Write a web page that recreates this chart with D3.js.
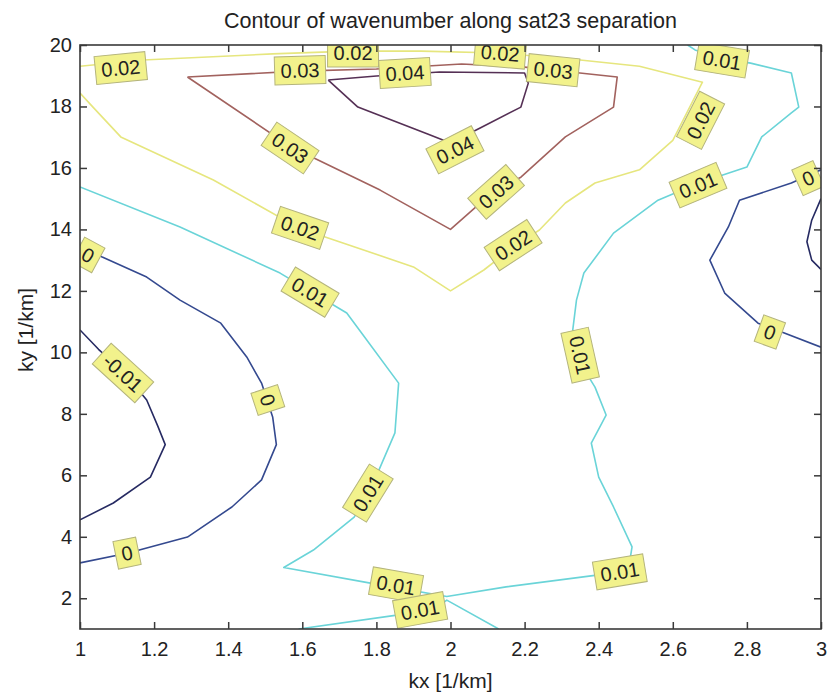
<!DOCTYPE html>
<html>
<head>
<meta charset="utf-8">
<script src="https://cdn.jsdelivr.net/npm/d3@7"></script>
<style>
  body { margin: 0; background: #fff; }
  text { font-family: "Liberation Sans", Arial, sans-serif; fill: #222; }
</style>
</head>
<body>
<div id="chart"></div>
<script>
  // contour levels and the colour MATLAB gave each one
  var levels = [-0.01, 0, 0.01, 0.02, 0.03, 0.04];
  var levelColors = ["#262a62", "#34498f", "#6ad4d8", "#e6e67e", "#a2625e", "#553055"];

  var xTicks = [1, 1.2, 1.4, 1.6, 1.8, 2, 2.2, 2.4, 2.6, 2.8, 3];
  var yTicks = [2, 4, 6, 8, 10, 12, 14, 16, 18, 20];

  // contour polylines, [kx, ky]
  var lineM001Left = [[1.0,10.73],[1.05,10.1],[1.12,9.33],[1.18,8.45],[1.21,7.6],[1.23,7.0],[1.19,5.94],[1.09,5.1],[1.0,4.55]];
  var lineM001Right = [[3.0,15.0],[2.975,14.3],[2.962,13.6],[2.975,13.0],[3.0,12.7]];
  var line0Left = [[1.0,13.49],[1.06,13.1],[1.18,12.45],[1.27,11.7],[1.38,10.95],[1.45,9.85],[1.49,9.0],[1.52,7.9],[1.53,7.0],[1.49,5.85],[1.41,4.97],[1.29,3.99],[1.13,3.47],[1.0,3.15]];
  var line0Right = [[3.0,15.94],[2.92,15.51],[2.78,14.95],[2.75,14.08],[2.7,13.0],[2.74,11.93],[2.83,10.95],[2.88,10.73],[3.0,10.17]];
  var line001Main = [[1.0,15.38],[1.27,14.08],[1.54,12.58],[1.72,11.28],[1.76,10.63],[1.86,9.0],[1.85,7.38],[1.78,5.42],[1.74,4.64],[1.63,3.57],[1.55,3.0],[1.78,2.5],[1.86,2.33],[1.99,2.06],[2.15,2.37],[2.4,2.76],[2.48,2.92],[2.49,3.67],[2.44,4.97],[2.4,5.94],[2.38,7.05],[2.42,7.96],[2.39,8.87],[2.35,9.65],[2.33,10.73],[2.34,11.7],[2.36,12.58],[2.44,13.88],[2.56,14.95],[2.67,15.51],[2.8,16.03],[2.84,17.01],[2.92,17.79],[2.94,17.98],[2.92,19.09],[2.81,19.41],[2.73,19.57],[2.66,19.84],[2.64,20.0]];
  var line001Bottom = [[1.59,1.0],[1.86,1.46],[1.96,1.68],[1.99,1.94],[2.13,1.0]];
  var line002 = [[1.0,18.44],[1.035,17.98],[1.11,17.01],[1.36,15.61],[1.59,14.05],[1.9,12.78],[2.0,12.0],[2.09,12.68],[2.17,13.43],[2.24,13.98],[2.31,14.86],[2.39,15.51],[2.51,15.94],[2.6,16.9],[2.68,18.79],[2.51,19.31],[2.35,19.51],[2.13,19.74],[1.92,19.8],[1.73,19.8],[1.52,19.71],[1.17,19.51],[1.0,19.31]];
  var line003 = [[1.29,18.96],[1.59,19.15],[1.8,19.22],[2.03,19.38],[2.2,19.28],[2.28,19.18],[2.45,18.96],[2.44,17.98],[2.31,17.01],[2.19,15.7],[2.12,15.28],[2.0,14.0],[1.81,15.28],[1.57,16.68],[1.29,18.96]];
  var line004 = [[1.67,18.86],[1.8,18.99],[1.88,19.05],[1.97,19.12],[2.2,19.09],[2.21,18.76],[2.19,17.98],[2.08,17.3],[2.0,16.81],[1.94,17.1],[1.75,17.98],[1.67,18.86]];

  var contours = [
    { level: -0.01, paths: [lineM001Left, lineM001Right] },
    { level: 0, paths: [line0Left, line0Right] },
    { level: 0.01, paths: [line001Main, line001Bottom] },
    { level: 0.02, paths: [line002] },
    { level: 0.03, paths: [line003] },
    { level: 0.04, paths: [line004] }
  ];

  // clabel positions [kx, ky, text]
  var labelPoints = [
    [1.11,19.25,"0.02"], [1.594,19.18,"0.03"], [1.737,19.74,"0.02"], [1.877,19.09,"0.04"],
    [2.134,19.74,"0.02"], [2.277,19.18,"0.03"], [2.733,19.51,"0.01"], [2.675,17.55,"0.02"],
    [1.567,16.65,"0.03"], [2.012,16.59,"0.04"], [2.123,15.22,"0.03"], [2.668,15.44,"0.01"],
    [2.965,15.67,"0"], [1.594,14.05,"0.02"], [2.169,13.49,"0.02"], [1.022,13.17,"0"],
    [1.621,11.96,"0.01"], [1.116,9.33,"-0.01"], [1.507,8.45,"0"], [2.35,9.91,"0.01"],
    [2.862,10.66,"0"], [1.777,5.42,"0.01"], [1.127,3.47,"0"], [1.853,2.43,"0.01"],
    [1.918,1.62,"0.01"], [2.457,2.86,"0.01"]
  ];

  var W = 827, H = 692;
  var pLeft = 80, pRight = 821, pTop = 45, pBottom = 629;

  var svg = d3.select("#chart").append("svg")
      .attr("width", W)
      .attr("height", H);

  var x = d3.scaleLinear().domain([1, 3]).range([pLeft, pRight]);
  var y = d3.scaleLinear().domain([1, 20]).range([pBottom, pTop]);

  svg.append("clipPath").attr("id", "plotclip")
    .append("rect")
      .attr("x", pLeft).attr("y", pTop)
      .attr("width", pRight - pLeft).attr("height", pBottom - pTop);

  var plot = svg.append("g").attr("clip-path", "url(#plotclip)");

  var line = d3.line()
      .x(function(d) { return x(d[0]); })
      .y(function(d) { return y(d[1]); });

  contours.forEach(function(c) {
    var col = levelColors[levels.indexOf(c.level)];
    c.paths.forEach(function(p) {
      plot.append("path")
        .attr("d", line(p))
        .attr("fill", "none")
        .attr("stroke", col)
        .attr("stroke-width", 1.6)
        .attr("stroke-linejoin", "round");
    });
  });

  // angle of the nearest segment of the same level, in screen space
  function labelAngle(level, px, py) {
    var best = Infinity, ang = 0;
    contours.forEach(function(c) {
      if (c.level !== level) return;
      c.paths.forEach(function(p) {
        for (var i = 0; i < p.length - 1; i++) {
          var ax = x(p[i][0]), ay = y(p[i][1]);
          var bx = x(p[i+1][0]), by = y(p[i+1][1]);
          var dx = bx - ax, dy = by - ay;
          var t = ((px - ax) * dx + (py - ay) * dy) / (dx * dx + dy * dy);
          t = Math.max(0, Math.min(1, t));
          var qx = ax + t * dx - px, qy = ay + t * dy - py;
          var dist = qx * qx + qy * qy;
          if (dist < best) {
            best = dist;
            ang = Math.atan2(dy, dx) * 180 / Math.PI;
          }
        }
      });
    });
    if (ang > 90) ang -= 180;
    if (ang < -90) ang += 180;
    return ang;
  }

  labelPoints.forEach(function(d) {
    var px = x(d[0]), py = y(d[1]);
    var ang = labelAngle(+d[2], px, py);
    var g = plot.append("g")
        .attr("transform", "translate(" + px + "," + py + ") rotate(" + ang + ")");
    var r = g.append("rect");
    var t = g.append("text")
        .attr("text-anchor", "middle")
        .attr("dy", "0.36em")
        .style("font-size", "20px")
        .text(d[2]);
    var w = t.node().getComputedTextLength();
    r.attr("x", -w / 2 - 6).attr("y", -14)
      .attr("width", w + 12).attr("height", 28)
      .attr("fill", "#f2f28c")
      .attr("stroke", "#b4b47c")
      .attr("stroke-width", 1);
  });

  // axes, ticks pointing inward on all four sides
  var xAxis = svg.append("g")
      .attr("transform", "translate(0," + pBottom + ")")
      .call(d3.axisBottom(x).tickValues(xTicks).tickSizeInner(-7).tickSizeOuter(0)
            .tickPadding(13).tickFormat(function(d) { return String(d); }));
  var yAxis = svg.append("g")
      .attr("transform", "translate(" + pLeft + ",0)")
      .call(d3.axisLeft(y).tickValues(yTicks).tickSizeInner(-7).tickSizeOuter(0)
            .tickPadding(8).tickFormat(function(d) { return String(d); }));
  var xTop = svg.append("g")
      .attr("transform", "translate(0," + pTop + ")")
      .call(d3.axisTop(x).tickValues(xTicks).tickSizeInner(-7).tickSizeOuter(0).tickFormat(""));
  var yRight = svg.append("g")
      .attr("transform", "translate(" + pRight + ",0)")
      .call(d3.axisRight(y).tickValues(yTicks).tickSizeInner(-7).tickSizeOuter(0).tickFormat(""));

  [xAxis, yAxis, xTop, yRight].forEach(function(a) {
    a.select(".domain").remove();
    a.selectAll(".tick line").attr("stroke", "#3a3a3a").attr("stroke-width", 1.5);
    a.selectAll(".tick text").style("font-size", "20px").attr("fill", "#222")
      .style("font-family", '"Liberation Sans", Arial, sans-serif');
  });

  svg.append("rect")
      .attr("x", pLeft).attr("y", pTop)
      .attr("width", pRight - pLeft).attr("height", pBottom - pTop)
      .attr("fill", "none")
      .attr("stroke", "#3a3a3a")
      .attr("stroke-width", 1.6);

  svg.append("text")
      .attr("x", (pLeft + pRight) / 2)
      .attr("y", 28)
      .attr("text-anchor", "middle")
      .style("font-size", "21.5px")
      .text("Contour of wavenumber along sat23 separation");

  svg.append("text")
      .attr("x", (pLeft + pRight) / 2)
      .attr("y", 688)
      .attr("text-anchor", "middle")
      .style("font-size", "21px")
      .text("kx [1/km]");

  svg.append("text")
      .attr("transform", "translate(33,330) rotate(-90)")
      .attr("text-anchor", "middle")
      .style("font-size", "21px")
      .text("ky [1/km]");
</script>
</body>
</html>
